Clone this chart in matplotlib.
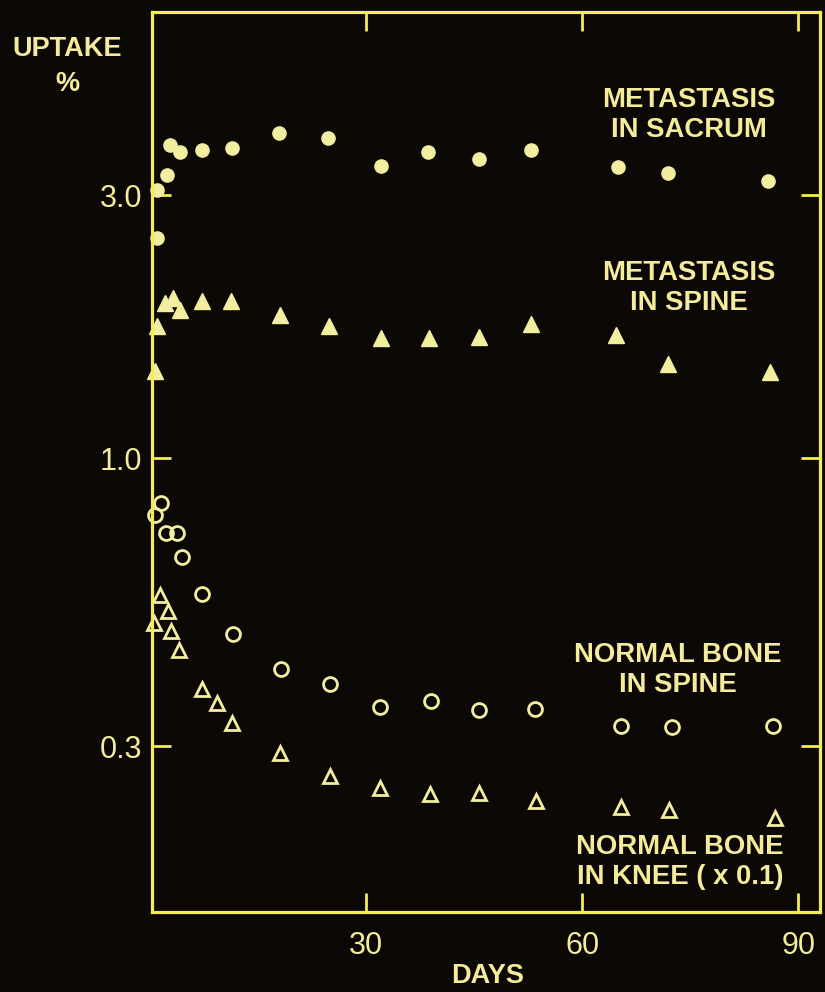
import matplotlib
matplotlib.use("Agg")
import matplotlib.pyplot as plt
import matplotlib.font_manager as fm
from matplotlib.ticker import FixedLocator, NullLocator

# ── data (days, uptake %) ─────────────────────────────────────
sacrum_days = [1.0, 1.0, 2.4, 2.8, 4.2, 7.2, 11.4, 17.9, 24.7, 32.1, 38.6, 45.7, 52.9, 65.0, 71.9, 85.8]
sacrum_vals = [3.06, 2.51, 3.27, 3.70, 3.60, 3.62, 3.66, 3.89, 3.81, 3.39, 3.60, 3.49, 3.62, 3.37, 3.29, 3.18]

met_spine_days = [0.7, 1.0, 2.1, 3.2, 4.2, 7.2, 11.3, 18.0, 24.9, 32.1, 38.8, 45.7, 52.9, 64.7, 71.9, 86.1]
met_spine_vals = [1.44, 1.74, 1.91, 1.95, 1.86, 1.93, 1.93, 1.82, 1.74, 1.65, 1.65, 1.66, 1.75, 1.67, 1.48, 1.43]

norm_spine_days = [1.5, 0.7, 2.2, 3.75, 4.4, 7.2, 11.5, 18.2, 25.0, 32.0, 39.0, 45.7, 53.5, 65.4, 72.4, 86.5]
norm_spine_vals = [0.828, 0.787, 0.731, 0.731, 0.661, 0.566, 0.479, 0.414, 0.389, 0.353, 0.363, 0.349, 0.351, 0.327, 0.325, 0.327]

knee_days = [1.4, 2.5, 0.55, 2.9, 4.0, 7.2, 9.3, 11.4, 18.0, 25.0, 32.0, 38.9, 45.7, 53.6, 65.4, 72.1, 86.8]
knee_vals = [0.564, 0.527, 0.501, 0.485, 0.448, 0.381, 0.360, 0.330, 0.292, 0.265, 0.252, 0.246, 0.247, 0.239, 0.233, 0.230, 0.222]

y_ticks = [0.3, 1.0, 3.0]
y_tick_labels = ["0.3", "1.0", "3.0"]
x_ticks = [30, 60, 90]
x_tick_labels = ["30", "60", "90"]

# ── style ─────────────────────────────────────────────────────
BG = "#0c0806"
FRAME = "#f2ec55"
MARK = "#f3eda0"
TEXT = "#f4ec9a"

available = {f.name for f in fm.fontManager.ttflist}
FONT = "Liberation Sans" if "Liberation Sans" in available else "DejaVu Sans"
plt.rcParams["font.family"] = FONT

W, H = 825, 992
fig = plt.figure(figsize=(W / 100, H / 100), dpi=100)
fig.patch.set_facecolor(BG)

left, right, top, bottom = 152, 820, 12, 912
ax = fig.add_axes([left / W, 1 - bottom / H, (right - left) / W, (bottom - top) / H])
ax.set_facecolor(BG)

ax.plot(sacrum_days, sacrum_vals, "o", ms=9.5, color=MARK, mec=MARK, clip_on=False)
ax.plot(met_spine_days, met_spine_vals, "^", ms=12, color=MARK, mec=MARK, clip_on=False)
ax.plot(norm_spine_days, norm_spine_vals, "o", ms=10, mfc="none", mec=MARK, mew=2, clip_on=False)
ax.plot(knee_days, knee_vals, "^", ms=10, mfc="none", mec=MARK, mew=2, clip_on=False)

ax.set_yscale("log")
ax.set_xlim(0.3, 93)
ax.set_ylim(0.150, 6.45)

ax.yaxis.set_major_locator(FixedLocator(y_ticks))
ax.yaxis.set_minor_locator(NullLocator())
ax.set_yticklabels(y_tick_labels)
ax.xaxis.set_major_locator(FixedLocator(x_ticks))
ax.set_xticklabels(x_tick_labels)

for s in ax.spines.values():
    s.set_color(FRAME)
    s.set_linewidth(2.3)

ax.tick_params(axis="both", which="major", direction="in", length=14, width=2,
               color=FRAME, labelcolor=TEXT, labelsize=22,
               top=True, right=True)
ax.tick_params(axis="y", pad=7)
ax.tick_params(axis="x", pad=14)


def fxy(x, y):
    return x / W, 1 - y / H


def label(x, y, s, size=19.8, weight="bold"):
    fig.text(*fxy(x, y), s, ha="center", va="center", fontsize=size,
             fontweight=weight, color=TEXT, linespacing=1.2)


label(67, 49, "UPTAKE", size=19.5)
label(67, 84, "%", size=19.5)
label(488, 976, "DAYS", size=19.5)

label(689, 115, "METASTASIS\nIN SACRUM")
label(689, 288, "METASTASIS\nIN SPINE")
label(678, 670, "NORMAL BONE\nIN SPINE")
label(680, 862, "NORMAL BONE\nIN KNEE ( x 0.1)")

fig.savefig("out.png", dpi=100, facecolor=BG)
